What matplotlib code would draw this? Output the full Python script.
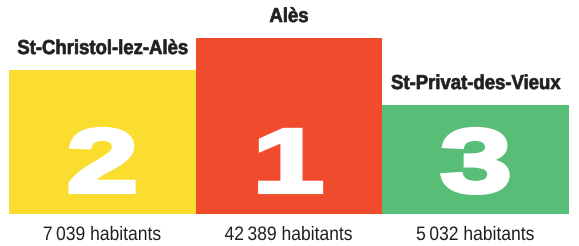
import matplotlib
matplotlib.use("Agg")
import matplotlib.pyplot as plt
from matplotlib.patheffects import AbstractPathEffect
from matplotlib.transforms import Affine2D

# ---- data ----
towns = ["St-Christol-lez-Alès", "Alès", "St-Privat-des-Vieux"]
ranks = ["2", "1", "3"]
podium_heights = [144, 176, 109]          # podium step heights (rank display)
populations = ["7\u202f039 habitants", "42\u202f389 habitants", "5\u202f032 habitants"]
colors = ["#FBDD2F", "#F04B2D", "#58BE77"]


class HStretch(AbstractPathEffect):
    """Stretch glyphs horizontally around their own centre (optional stroke)."""
    def __init__(self, sx, stroke=0.0):
        super().__init__()
        self.sx = sx
        self.stroke = stroke

    def draw_path(self, renderer, gc, tpath, affine, rgbFace=None):
        ext = tpath.get_extents(affine)
        cx = (ext.x0 + ext.x1) / 2
        t = affine + Affine2D().translate(-cx, 0).scale(self.sx, 1).translate(cx, 0)
        gc0 = renderer.new_gc()
        gc0.copy_properties(gc)
        if self.stroke > 0 and rgbFace is not None:
            gc0.set_linewidth(self.stroke)
            gc0.set_foreground(rgbFace)
            gc0.set_joinstyle("miter")
        renderer.draw_path(gc0, tpath, t, rgbFace)
        gc0.restore()


W, H = 579, 246
fig = plt.figure(figsize=(W / 100, H / 100), dpi=100)
ax = fig.add_axes([9 / W, 32 / H, 560 / W, 214 / H])
ax.set_xlim(-0.5, 2.5)
ax.set_ylim(0, 214)
ax.axis("off")

x = range(len(towns))
ax.bar(x, podium_heights, width=1.0, color=colors, linewidth=0)

for i, (name, h, r, pop) in enumerate(zip(towns, podium_heights, ranks, populations)):
    ax.annotate(name, xy=(i, h), xytext=(0, 16), textcoords="offset pixels",
                ha="center", va="baseline", fontsize=14.5, fontweight="bold",
                color="#231F20", family="Liberation Sans",
                path_effects=[HStretch(0.92, 0.5)])
    ax.text(i, 22, r, ha="center", va="baseline", fontsize=65,
            fontweight="bold", color="white", family="Liberation Sans",
            path_effects=[HStretch(1.45, 3.0)])
    ax.annotate(pop, xy=(i, 0), xytext=(0, -26), textcoords="offset pixels",
                ha="center", va="baseline", fontsize=14, color="#231F20",
                family="Liberation Sans", path_effects=[HStretch(0.9)])

fig.savefig("out.png", dpi=100)
